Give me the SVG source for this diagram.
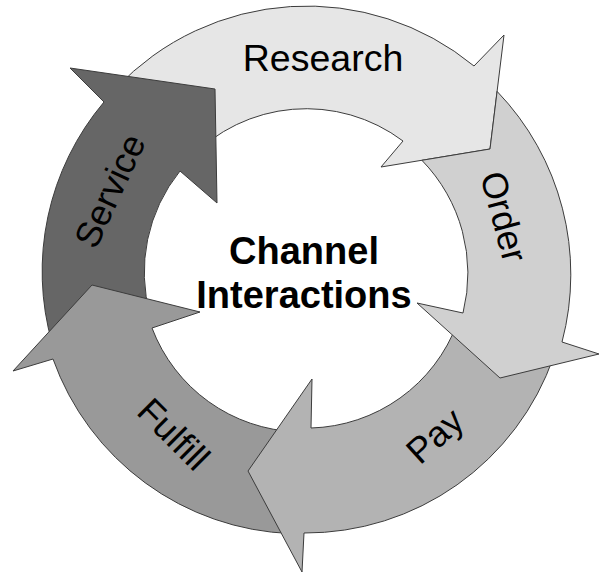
<svg xmlns="http://www.w3.org/2000/svg" width="599" height="575" viewBox="0 0 599 575">
  <style>
    .seg { stroke: #3c3c3c; stroke-width: 1; stroke-linejoin: miter; }
    .lbl { font-family: "Liberation Sans", Arial, sans-serif; font-size: 36px; fill: #000; text-anchor: middle; }
    .hub { font-family: "Liberation Sans", Arial, sans-serif; font-size: 38px; font-weight: bold; fill: #000; text-anchor: middle; }
  </style>
  <rect width="599" height="575" fill="#ffffff"/>

  <!-- cycle of five curved arrows around centre (305,271), band radii 161..263;
       each arrow's tail is tucked under the previous arrow's head -->
  <g id="cycle">
    <g id="research">
      <path class="seg" fill="#e6e6e6" d="M115.8,88.3 A263,263 0 0 1 474,66 L504,35 L490,149 L381,167 L403,141 A161,161 0 0 0 189.2,159.2 Z"/>
      <text class="lbl" x="323" y="71" style="font-size:37.5px">Research</text>
    </g>
    <g id="service">
      <path class="seg" fill="#666666" d="M52.2,343.5 A263,263 0 0 1 104,102 L70,68 L215,89 L217,203 L180,171 A161,161 0 0 0 150.2,315.4 Z"/>
      <text class="lbl" transform="translate(121,196) rotate(-65)">Service</text>
    </g>
    <g id="fulfill">
      <path class="seg" fill="#999999" d="M291.2,533.6 A263,263 0 0 1 53,359 L13,371 L92,285 L200,312 L152,328 A161,161 0 0 0 296.6,431.8 Z"/>
      <text class="lbl" transform="translate(165,443) rotate(45)">Fulfill</text>
    </g>
    <g id="pay">
      <path class="seg" fill="#b3b3b3" d="M553.7,356.6 A263,263 0 0 1 304,533 L302,572 L248,471 L312,379 L311,428 A161,161 0 0 0 457.2,323.4 Z"/>
      <text class="lbl" transform="translate(443,445) rotate(-42)">Pay</text>
    </g>
    <g id="order">
      <!-- tail follows the research arrowhead edge -->
      <path class="seg" fill="#d0d0d0" d="M497.1,91.4 A264,264 0 0 1 562,342 L599,354 L500,378 L417,303 L463,313 A162,162 0 0 0 421.9,160.3 L490,149 Z"/>
      <text class="lbl" transform="translate(492,220) rotate(75)">Order</text>
    </g>
  </g>

  <g id="hub">
    <text class="hub" x="304" y="264">Channel</text>
    <text class="hub" x="304" y="308">Interactions</text>
  </g>
</svg>
